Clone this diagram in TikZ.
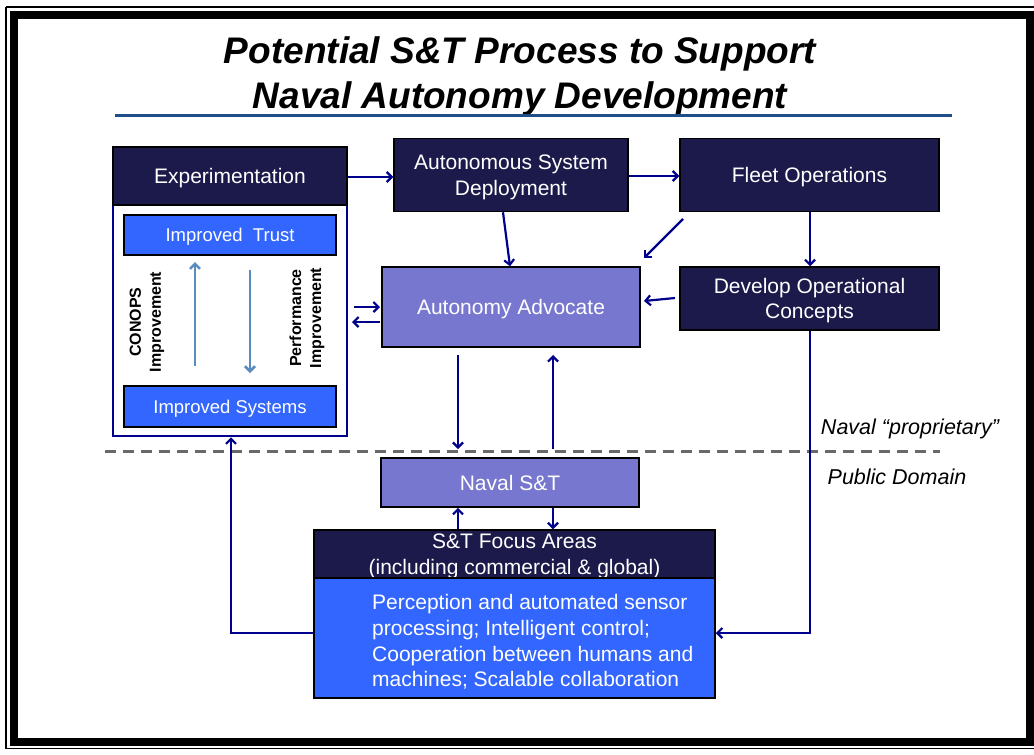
\documentclass[tikz,border=0pt]{standalone}
\usepackage{fontspec}
\setmainfont{Liberation Sans}
\usetikzlibrary{arrows.meta}
\definecolor{navybox}{RGB}{28,26,74}
\definecolor{brightblue}{RGB}{51,102,255}
\definecolor{advocate}{RGB}{119,119,207}
\definecolor{arrownavy}{RGB}{0,0,140}
\definecolor{steel}{RGB}{91,140,192}
\definecolor{dashgray}{RGB}{105,105,105}
\definecolor{rulecol}{RGB}{31,78,138}
\tikzset{
  darkbox/.style={draw=black, line width=1.5pt, fill=navybox, text=white, inner sep=0pt, align=center, text depth=-2pt, font=\fontsize{21}{25.5}\selectfont},
  bluebox/.style={draw=black, line width=1.5pt, fill=brightblue, text=white, inner sep=0pt, align=center, text depth=-2pt, font=\fontsize{18.5}{22}\selectfont},
  purplebox/.style={draw=black, line width=1.5pt, fill=advocate, text=white, inner sep=0pt, align=center, text depth=-2pt, font=\fontsize{21}{25.5}\selectfont},
  conn/.style={draw=arrownavy, line width=2.2pt, -{Straight Barb[length=5pt,width=10pt,line width=2.2pt]}},
  steelarrow/.style={draw=steel, line width=2.5pt, -{Straight Barb[length=5pt,width=10pt,line width=2.5pt]}},
  sidelabel/.style={font=\fontsize{16}{20}\selectfont\bfseries, align=center, rotate=90, inner sep=0pt},
  domainlabel/.style={font=\fontsize{21.5}{25}\selectfont\itshape, inner sep=0pt}
}
\begin{document}
\begin{tikzpicture}[x=1pt,y=-1pt]
\useasboundingbox (0,0) rectangle (1034,755);
\fill[white] (0,0) rectangle (1034,755);
% frame
\draw[line width=1.5pt] (6,7) -- (1040,7);
\draw[line width=1.5pt] (6,7) -- (6,748.5) -- (1040,748.5);
\draw[line width=8pt] (14,15) rectangle (1029.5,741.5);

% title
\node[font=\fontsize{37}{45}\selectfont\bfseries\itshape, align=center, inner sep=0pt] (title) at (520,76) {Potential S\&T Process to Support\\Naval Autonomy Development};
\draw[rulecol, line width=3pt] (115,115) -- (952,115);

% container and boxes
\node[draw=arrownavy, line width=2.5pt, fill=white, minimum width=234pt, minimum height=231pt, inner sep=0pt] (cont) at (230,320.5) {};
\node[darkbox, minimum width=234pt, minimum height=58pt] (exp) at (230,176) {Experimentation};
\node[bluebox, minimum width=212pt, minimum height=40pt] (trust) at (230,235) {Improved\ \ Trust};
\node[bluebox, minimum width=212pt, minimum height=41pt] (sys) at (230,406.5) {Improved Systems};
\node[sidelabel] (conops) at (147,322) {CONOPS\\Improvement};
\node[sidelabel] (perf) at (307,318) {Performance\\Improvement};
\coordinate (upS) at (195,366);
\coordinate (upE) at (195,262);
\coordinate (dnS) at (250,270);
\coordinate (dnE) at (250,373);
\draw[steelarrow] (upS) -- (upE);
\draw[steelarrow] (dnS) -- (dnE);

\node[darkbox, minimum width=234pt, minimum height=73pt] (asd) at (511,175) {Autonomous System\\Deployment};
\node[darkbox, minimum width=259pt, minimum height=73pt] (fleet) at (809.5,175) {Fleet Operations};
\node[purplebox, minimum width=258pt, minimum height=80pt] (aa) at (511,307) {Autonomy Advocate};
\node[darkbox, minimum width=259pt, minimum height=63pt] (doc) at (809.5,298.5) {Develop Operational\\Concepts};
\node[purplebox, minimum width=258pt, minimum height=49pt] (nst) at (510,482.5) {Naval S\&T};
\node[darkbox, minimum width=401pt, minimum height=48pt] (fhead) at (514.5,554) {S\&T Focus Areas\\(including commercial \& global)};
\node[draw=black, line width=1.5pt, fill=brightblue, minimum width=401pt, minimum height=120pt, inner sep=0pt] (fbody) at (514.5,638) {};
\node[anchor=west, text=white, align=left, inner sep=0pt, font=\fontsize{21}{25.7}\selectfont] (ftext) at (372,642) {Perception and automated sensor\\processing; Intelligent control;\\Cooperation between humans and\\machines; Scalable collaboration};

% dashed divider and labels
\coordinate (dashL) at (105,451);
\coordinate (dashR) at (940,451);
\draw[dashgray, line width=3pt, dash pattern=on 11pt off 7pt] (dashL) -- (dashR);
\node[domainlabel] (prop) at (910,429) {Naval “proprietary”};
\node[domainlabel] (pub) at (897,477) {Public Domain};

% connectors
\draw[conn] (exp.east |- 0,177) -- (asd.west |- 0,177);
\draw[conn] (asd.east |- 0,176) -- (fleet.west |- 0,176);
\draw[conn] (asd.south -| 503,0) -- (aa.north -| 510,0);
\coordinate (diagS) at (683,219);
\coordinate (diagE) at (644,258);
\draw[conn] (diagS) -- (diagE);
\draw[conn] (fleet.south -| 810,0) -- (doc.north -| 810,0);
\coordinate (docS) at (675,298);
\coordinate (aaE) at (644,301);
\draw[conn] (docS) -- (aaE);
\coordinate (cr1) at (354,307);
\coordinate (ar1) at (380,307);
\coordinate (ar2) at (380,322);
\coordinate (cr2) at (352,322);
\draw[conn] (cr1) -- (ar1);
\draw[conn] (ar2) -- (cr2);
\coordinate (aaD) at (458,355);
\coordinate (dD) at (458,449);
\coordinate (dU) at (553,449);
\coordinate (aaU) at (553,355);
\draw[conn] (aaD) -- (dD);
\draw[conn] (dU) -- (aaU);
\draw[conn] (fhead.north -| 458,0) -- (nst.south -| 458,0);
\draw[conn] (nst.south -| 553,0) -- (fhead.north -| 553,0);
\draw[conn] (doc.south -| 810,0) -- (810,633) -- (fbody.east |- 0,633);
\draw[conn] (fbody.west |- 0,633) -- (231,633) -- (cont.south -| 231,0);
\end{tikzpicture}
\end{document}
